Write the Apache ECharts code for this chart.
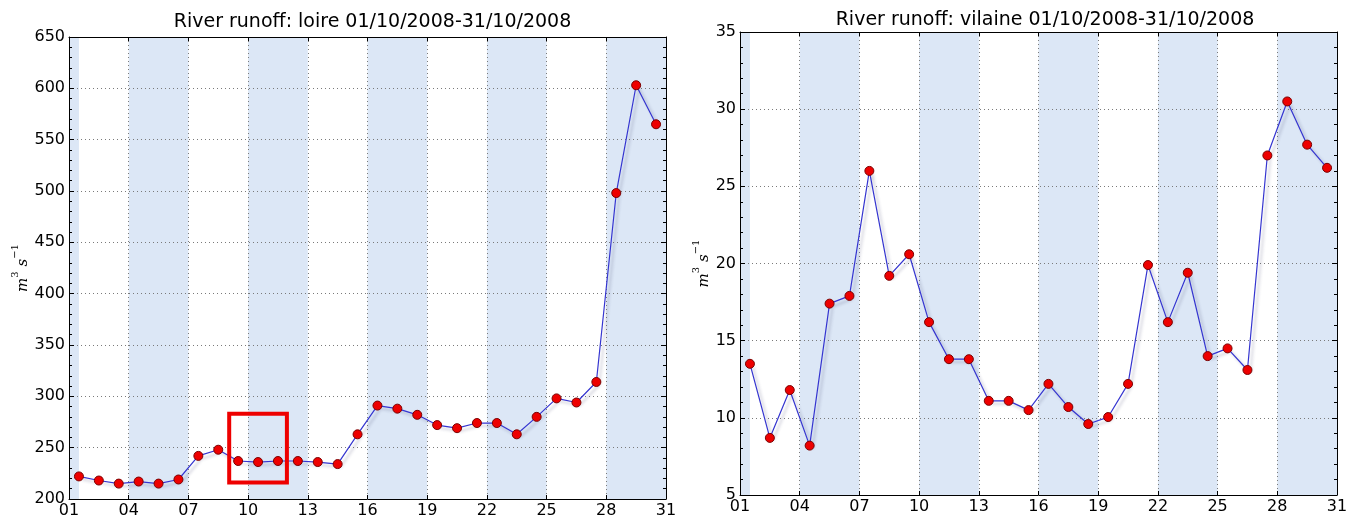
<!DOCTYPE html>
<html>
<head>
<meta charset="utf-8">
<script src="https://cdn.jsdelivr.net/npm/echarts@6/dist/echarts.min.js"></script>
<style>
html, body { margin: 0; padding: 0; background: #fff; }
#chart { width: 1359px; height: 519px; }
</style>
</head>
<body>
<div id="chart"></div>
<script>
// === ДАННЫЕ ===
// позиция точки в "днях" шкалы (01 = первая метка)
const sampleDays = [1.5, 2.5, 3.5, 4.5, 5.5, 6.5, 7.5, 8.5, 9.5, 10.5,
    11.5, 12.5, 13.5, 14.5, 15.5, 16.5, 17.5, 18.5, 19.5, 20.5,
    21.5, 22.5, 23.5, 24.5, 25.5, 26.5, 27.5, 28.5, 29.5, 30.5];
const loireFlow = [222, 218, 215, 217, 215, 219, 242, 248, 237, 236,
    237, 237, 236, 234, 263, 291, 288, 282, 272, 269,
    274, 274, 263, 280, 298, 294, 314, 498, 603, 565];
const vilaineFlow = [13.5, 8.7, 11.8, 8.2, 17.4, 17.9, 26.0, 19.2, 20.6, 16.2,
    13.8, 13.8, 11.1, 11.1, 10.5, 12.2, 10.7, 9.6, 10.05, 12.2,
    19.9, 16.2, 19.4, 14.0, 14.5, 13.1, 27.0, 30.5, 27.7, 26.2];
const shadedDays = [[1, 1.5], [4, 7], [10, 13], [16, 19], [22, 25], [28, 31]];
const highlightBox = [[9.05, 216], [11.95, 283]]; // красная рамка на графике loire
const panelTitles = ['River runoff: loire 01/10/2008-31/10/2008',
    'River runoff: vilaine 01/10/2008-31/10/2008'];
const yRanges = [[200, 650, 50], [5, 35, 5]];

// === КОНФИГУРАЦИЯ ===
const FONT = 'DejaVu Sans';
const grids = [
    { left: 69, right: 693, top: 37, bottom: 19 },
    { left: 740, right: 22, top: 32, bottom: 24 }
];
const titlePos = [{ x: 367.5, top: 8 }, { x: 1040, top: 6 }];
const nameGaps = [38, 27];
const dayOffset = d => d - 1; // ось X считается от 0, подпись = значение + 1

const dotted = { show: true, lineStyle: { color: '#7a7a7a', width: 1, type: [1, 3] } };
const spine = { show: true, onZero: false, lineStyle: { color: '#000', width: 1 } };

function xAxes(gi) {
    const base = { type: 'value', gridIndex: gi, min: 0, max: 30, interval: 3, z: 1 };
    return [
        Object.assign({}, base, {
            position: 'bottom',
            axisLine: spine,
            axisTick: { inside: true, length: 4, lineStyle: { color: '#000' } },
            axisLabel: {
                color: '#000', fontFamily: FONT, fontSize: 16, margin: 4,
                formatter: v => String(v + 1).padStart(2, '0')
            },
            splitLine: dotted
        }),
        Object.assign({}, base, {
            position: 'top',
            axisLine: spine,
            axisTick: { inside: true, length: 4, lineStyle: { color: '#000' } },
            axisLabel: { show: false },
            splitLine: { show: false }
        })
    ];
}

function yAxes(gi) {
    const r = yRanges[gi];
    const base = { type: 'value', gridIndex: gi, min: r[0], max: r[1], interval: r[2], z: 1 };
    const ticks = { inside: true, length: 5, lineStyle: { color: '#000' } };
    const minor = { show: true, splitNumber: 5, length: 3, lineStyle: { color: '#000' } };
    return [
        Object.assign({}, base, {
            position: 'left',
            axisLine: spine,
            axisTick: ticks,
            minorTick: minor,
            axisLabel: { color: '#000', fontFamily: FONT, fontSize: 16, margin: 4 },
            splitLine: dotted,
            name: '{i|m}{s|3}{i| s}{s|\u22121}',
            nameLocation: 'middle',
            nameRotate: 90,
            nameGap: nameGaps[gi],
            nameTextStyle: {
                rich: {
                    i: { fontFamily: 'DejaVu Serif', fontStyle: 'italic', fontSize: 15, color: '#000', lineHeight: 20, verticalAlign: 'bottom' },
                    s: { fontFamily: 'DejaVu Serif', fontSize: 10, color: '#000', lineHeight: 20, verticalAlign: 'top' }
                }
            }
        }),
        Object.assign({}, base, {
            position: 'right',
            axisLine: spine,
            axisTick: ticks,
            minorTick: minor,
            axisLabel: { show: false },
            splitLine: { show: false }
        })
    ];
}

// полосы фона
function bandSeries(gi) {
    return {
        type: 'custom',
        xAxisIndex: gi * 2,
        yAxisIndex: gi * 2,
        z: 0,
        silent: true,
        data: shadedDays.map(b => [dayOffset(b[0]), dayOffset(b[1])]),
        encode: { x: [0, 1] },
        renderItem: function (params, api) {
            const a = api.coord([api.value(0), yRanges[gi][0]]);
            const b = api.coord([api.value(1), yRanges[gi][1]]);
            return {
                type: 'rect',
                shape: { x: a[0], y: b[1], width: b[0] - a[0], height: a[1] - b[1] },
                style: { fill: '#dce7f6' }
            };
        }
    };
}

function flowSeries(gi, values) {
    return {
        type: 'line',
        xAxisIndex: gi * 2,
        yAxisIndex: gi * 2,
        z: 3,
        data: values.map((v, i) => [dayOffset(sampleDays[i]), v]),
        symbol: 'circle',
        symbolSize: 9,
        lineStyle: {
            color: '#3535d0', width: 1.2,
            shadowColor: 'rgba(40,40,90,0.3)', shadowBlur: 3, shadowOffsetX: 3, shadowOffsetY: 3
        },
        itemStyle: { color: '#ee0000', borderColor: '#7a0000', borderWidth: 1 },
        animation: false
    };
}

const boxSeries = {
    type: 'custom',
    xAxisIndex: 0,
    yAxisIndex: 0,
    z: 4,
    silent: true,
    data: [[dayOffset(highlightBox[0][0]), highlightBox[0][1], dayOffset(highlightBox[1][0]), highlightBox[1][1]]],
    encode: { x: [0, 2], y: [1, 3] },
    renderItem: function (params, api) {
        const a = api.coord([api.value(0), api.value(1)]);
        const b = api.coord([api.value(2), api.value(3)]);
        return {
            type: 'rect',
            shape: { x: a[0], y: b[1], width: b[0] - a[0], height: a[1] - b[1] },
            style: { fill: 'none', stroke: '#ee0000', lineWidth: 4 }
        };
    }
};

// === РЕНДЕР ===
const chart = echarts.init(document.getElementById('chart'));
chart.setOption({
    animation: false,
    title: panelTitles.map((t, i) => ({
        text: t,
        left: titlePos[i].x,
        top: titlePos[i].top,
        textAlign: 'center',
        textStyle: { fontFamily: FONT, fontSize: 19, fontWeight: 'normal', color: '#000' }
    })),
    grid: grids,
    xAxis: xAxes(0).concat(xAxes(1)),
    yAxis: yAxes(0).concat(yAxes(1)),
    series: [
        bandSeries(0), bandSeries(1),
        flowSeries(0, loireFlow), flowSeries(1, vilaineFlow),
        boxSeries
    ]
});
</script>
</body>
</html>
